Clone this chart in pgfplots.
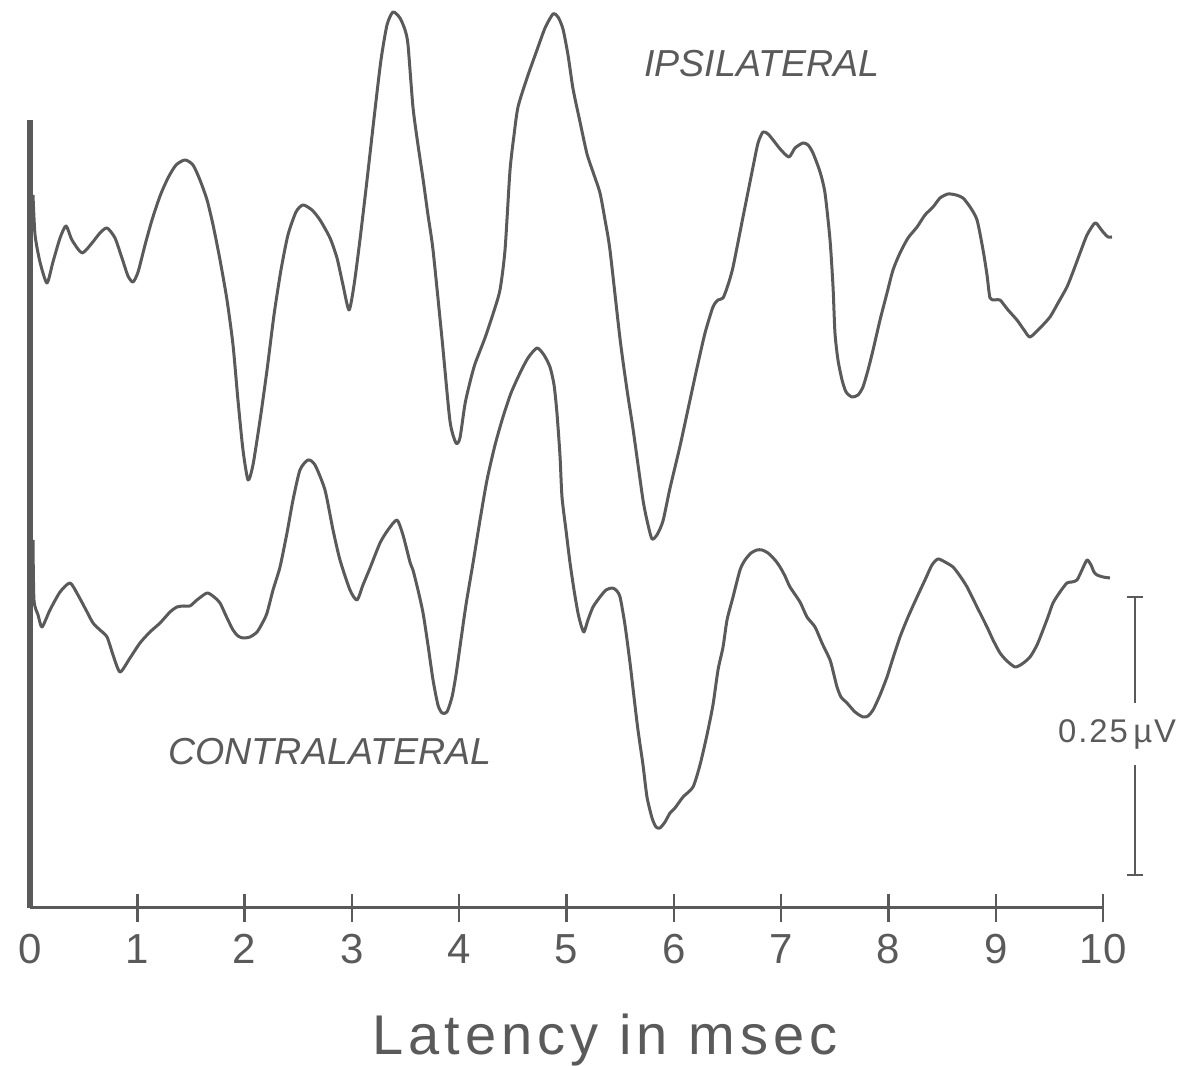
\documentclass[border=0pt]{standalone}
\usepackage{fontspec}
\setmainfont{Liberation Sans}
\usepackage{pgfplots}
\pgfplotsset{compat=1.18}
\definecolor{ink}{HTML}{5A5A5A}
\begin{document}
\begin{tikzpicture}
\useasboundingbox (-7.5pt,-39.5pt) rectangle (289.75pt,227pt);
\begin{axis}[
  at={(0pt,0pt)}, anchor=south west,
  scale only axis, width=268.25pt, height=197pt,
  xmin=0, xmax=10, ymin=0, ymax=788,
  clip=false,
  axis x line*=bottom, axis y line*=left,
  x axis line style={draw=ink, line width=0.75pt},
  y axis line style={draw=ink, line width=1.3pt},
  xtick={1,2,3,4,5,6,7,8,9,10},
  extra x ticks={0},
  extra x tick style={major tick style={draw=none}},
  ytick=\empty,
  tick align=center,
  major tick length=7pt,
  tick style={draw=ink, line width=0.6pt},
  /pgf/number format/assume math mode=true,
  xticklabel style={font=\fontsize{10.5}{11}\selectfont, text=ink, anchor=north, yshift=0.5pt},
  xlabel={\addfontfeature{LetterSpace=9}Latency in msec},
  xlabel style={at={(axis cs:5.36,-147)}, anchor=base, font=\fontsize{14}{16}\selectfont, text=ink},
]
\addplot[ink, line width=0.75pt, line join=round, smooth, tension=0.4] coordinates {
(0.028,713)(0.047,673)(0.093,646)(0.158,625)(0.214,646)(0.280,670)(0.336,682)(0.391,668)
(0.485,655)(0.578,665)(0.652,675)(0.718,680)(0.792,670)(0.857,650)(0.913,632)(0.960,626)
(1.007,636)(1.072,663)(1.137,688)(1.212,712)(1.286,730)(1.361,743)(1.445,748)(1.519,743)
(1.584,728)(1.650,708)(1.706,683)(1.771,648)(1.836,608)(1.892,563)(1.938,508)(1.985,458)
(2.032,428)(2.078,443)(2.144,488)(2.209,538)(2.274,593)(2.339,638)(2.404,673)(2.479,696)
(2.544,703)(2.628,698)(2.703,688)(2.796,670)(2.861,650)(2.917,623)(2.973,598)(3.020,623)
(3.075,668)(3.141,728)(3.215,798)(3.271,848)(3.327,883)(3.383,896)(3.448,890)(3.495,878)
(3.523,863)(3.569,801)(3.616,763)(3.663,729)(3.709,693)(3.756,658)(3.840,569)(3.914,487)
(3.970,465)(4.007,470)(4.054,504)(4.101,526)(4.147,544)(4.240,570)(4.315,594)(4.380,618)
(4.427,658)(4.473,737)(4.511,773)(4.548,801)(4.632,830)(4.725,858)(4.800,880)(4.874,894)
(4.921,891)(4.967,879)(5.014,853)(5.061,819)(5.126,786)(5.191,754)(5.247,736)(5.312,715)
(5.359,688)(5.405,658)(5.499,569)(5.564,518)(5.620,479)(5.713,408)(5.760,383)(5.797,369)
(5.843,373)(5.899,387)(5.965,420)(6.058,462)(6.151,508)(6.216,540)(6.291,575)(6.365,601)
(6.412,608)(6.459,610)(6.505,623)(6.552,641)(6.645,691)(6.738,741)(6.785,765)(6.831,776)
(6.878,774)(6.925,768)(6.999,758)(7.074,751)(7.130,760)(7.204,765)(7.251,763)(7.297,755)
(7.363,736)(7.409,715)(7.456,668)(7.484,621)(7.502,575)(7.530,548)(7.568,528)(7.605,516)
(7.661,511)(7.717,513)(7.763,521)(7.810,538)(7.857,558)(7.922,588)(7.987,615)(8.043,638)
(8.108,655)(8.183,670)(8.267,681)(8.341,693)(8.416,701)(8.481,710)(8.556,714)(8.630,713)
(8.695,710)(8.761,701)(8.826,688)(8.882,658)(8.919,633)(8.947,610)(8.993,608)(9.040,608)
(9.115,598)(9.198,588)(9.264,578)(9.320,571)(9.413,580)(9.506,591)(9.581,605)(9.664,621)
(9.720,636)(9.786,655)(9.851,673)(9.925,685)(9.972,680)(10.000,676)(10.047,671)(10.084,671)
};
\addplot[ink, line width=0.75pt, line join=round, smooth, tension=0.4] coordinates {
(0.028,368)(0.037,308)(0.075,293)(0.112,281)(0.186,298)(0.280,316)(0.373,325)(0.447,313)
(0.522,298)(0.587,285)(0.652,278)(0.718,271)(0.774,253)(0.839,236)(0.932,250)(1.025,265)
(1.118,276)(1.212,285)(1.305,296)(1.370,301)(1.435,302)(1.491,302)(1.556,308)(1.650,315)
(1.715,311)(1.771,305)(1.836,290)(1.892,278)(1.938,272)(1.985,270)(2.050,271)(2.116,276)
(2.171,286)(2.209,295)(2.265,318)(2.330,341)(2.395,375)(2.451,408)(2.516,438)(2.591,448)
(2.656,443)(2.749,418)(2.824,378)(2.889,348)(2.982,318)(3.048,308)(3.103,323)(3.169,340)
(3.262,365)(3.336,378)(3.420,388)(3.476,373)(3.541,346)(3.569,338)(3.616,318)(3.663,295)
(3.709,263)(3.756,228)(3.802,203)(3.840,195)(3.886,196)(3.933,211)(3.970,233)(4.007,261)
(4.063,303)(4.129,345)(4.194,388)(4.259,428)(4.334,463)(4.408,491)(4.483,515)(4.567,535)
(4.641,550)(4.725,560)(4.790,553)(4.846,541)(4.884,523)(4.911,495)(4.939,453)(4.958,411)
(4.995,378)(5.033,345)(5.070,318)(5.107,295)(5.135,283)(5.163,276)(5.200,288)(5.247,301)
(5.312,311)(5.368,318)(5.424,320)(5.461,318)(5.499,311)(5.545,283)(5.592,245)(5.629,211)
(5.666,178)(5.713,143)(5.750,111)(5.797,90)(5.834,81)(5.871,80)(5.918,86)(5.965,95)
(6.011,100)(6.086,111)(6.179,121)(6.244,143)(6.309,173)(6.365,203)(6.412,238)(6.459,261)
(6.496,288)(6.552,311)(6.617,338)(6.664,348)(6.720,355)(6.775,358)(6.822,358)(6.878,355)
(6.943,348)(6.990,341)(7.036,332)(7.083,321)(7.176,306)(7.241,291)(7.316,281)(7.381,265)
(7.456,248)(7.493,233)(7.521,221)(7.558,211)(7.614,205)(7.689,196)(7.763,191)(7.810,192)
(7.857,198)(7.922,213)(7.987,231)(8.043,250)(8.108,271)(8.183,291)(8.267,311)(8.341,328)
(8.406,343)(8.462,349)(8.527,346)(8.602,341)(8.667,332)(8.733,321)(8.826,301)(8.919,281)
(8.975,268)(9.040,255)(9.105,247)(9.180,241)(9.245,244)(9.320,251)(9.385,263)(9.441,278)
(9.487,291)(9.534,305)(9.599,316)(9.664,325)(9.711,326)(9.758,328)(9.804,338)(9.851,348)
(9.888,343)(9.916,336)(9.944,333)(10.000,331)(10.065,330)
};
% scale bar
\draw[ink, line width=0.6pt] (axis cs:10.298,311) -- (axis cs:10.298,205);
\draw[ink, line width=0.6pt] (axis cs:10.298,143) -- (axis cs:10.298,33);
\draw[ink, line width=0.6pt] (axis cs:10.223,311) -- (axis cs:10.373,311);
\draw[ink, line width=0.6pt] (axis cs:10.223,33) -- (axis cs:10.373,33);
\node[anchor=base, text=ink, font=\fontsize{8.2}{9}\selectfont\addfontfeature{LetterSpace=6}] at (axis cs:10.131,165) {0.25\,µV};
\node[anchor=base, text=ink, font=\fontsize{9.4}{11}\selectfont\itshape] at (axis cs:6.822,831) {IPSILATERAL};
\node[anchor=base, text=ink, font=\fontsize{9.4}{11}\selectfont\itshape] at (axis cs:2.796,143) {CONTRALATERAL};
\end{axis}
\end{tikzpicture}
\end{document}
